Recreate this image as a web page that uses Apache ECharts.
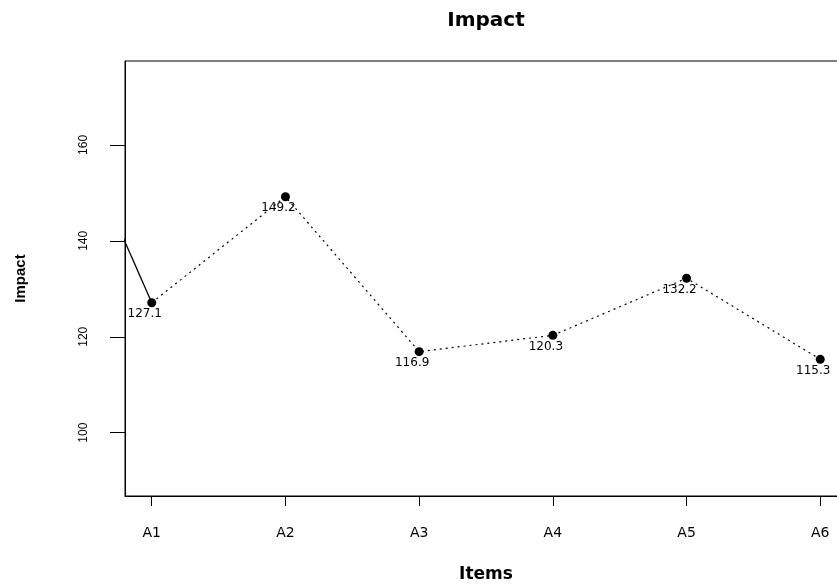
<!DOCTYPE html>
<html>
<head>
<meta charset="utf-8">
<script src="https://cdn.jsdelivr.net/npm/echarts@6/dist/echarts.min.js"></script>
<style>html,body{margin:0;padding:0;background:#fff;overflow:hidden;width:837px;height:588px}#c{width:847px;height:588px}</style>
</head>
<body>
<div id="c"></div>
<script>
// ---- data ----
var categories = ['A1', 'A2', 'A3', 'A4', 'A5', 'A6'];
var impactValues = [127.1, 149.2, 116.9, 120.3, 132.2, 115.3];
// solid segment coming in from a point left of the plot region
var leadInX = [0, 1];
var leadInY = [190.6, 127.1];
var yTicks = [100, 120, 140, 160];
var xTicks = [1, 2, 3, 4, 5, 6];

var mainData = impactValues.map(function (v, i) { return [i + 1, v]; });
var leadData = leadInX.map(function (x, i) { return [x, leadInY[i]]; });

var chart = echarts.init(document.getElementById('c'), null, {renderer: 'canvas'});
chart.setOption({
  animation: false,
  backgroundColor: '#fff',
  title: {
    text: 'Impact',
    left: 481, top: 6, textAlign: 'center',
    textStyle: {fontFamily: 'DejaVu Sans', fontWeight: 'bold', fontSize: 20, color: '#000'}
  },
  grid: {
    left: 125, top: 61, bottom: 91, right: 0,
    show: true, borderColor: '#000', borderWidth: 1, backgroundColor: 'transparent'
  },
  xAxis: {
    type: 'value', min: 0.8, max: 6.2,
    name: 'Items', nameLocation: 'middle', nameGap: 70,
    nameTextStyle: {fontFamily: 'DejaVu Sans', fontWeight: 'bold', fontSize: 17, color: '#000'},
    axisLine: {show: true, lineStyle: {color: '#000', width: 1}},
    axisTick: {show: true, customValues: xTicks, length: 10, lineStyle: {color: '#000'}},
    axisLabel: {
      customValues: xTicks, margin: 30,
      fontFamily: 'DejaVu Sans', fontSize: 14, color: '#000',
      formatter: function (v) { return categories[Math.round(v) - 1] || ''; }
    },
    splitLine: {show: false}
  },
  yAxis: {
    type: 'value', min: 86.8, max: 177.5,
    name: 'Impact', nameLocation: 'middle', nameGap: 97,
    nameTextStyle: {fontFamily: 'Liberation Sans', fontWeight: 'bold', fontSize: 15, color: '#000'},
    axisLine: {show: true, lineStyle: {color: '#000', width: 1}},
    axisTick: {show: true, customValues: yTicks, length: 15, lineStyle: {color: '#000'}},
    axisLabel: {
      customValues: yTicks, rotate: 90, margin: 35,
      fontFamily: 'Liberation Sans', fontSize: 12, color: '#000'
    },
    splitLine: {show: false}
  },
  series: [
    {
      type: 'line', data: leadData, clip: true, showSymbol: false, symbol: 'none',
      lineStyle: {color: '#000', width: 1.3, type: 'solid'},
      silent: true
    },
    {
      type: 'line', data: mainData, clip: false,
      symbol: 'circle', symbolSize: 9,
      itemStyle: {color: '#000'},
      lineStyle: {color: '#000', width: 1.2, type: [2, 4]},
      label: {
        show: true, position: 'bottom', distance: 1, offset: [-7, 0],
        fontFamily: 'DejaVu Sans', fontSize: 12, color: '#000',
        formatter: function (p) { return p.value[1].toFixed(1); }
      }
    }
  ]
});
</script>
</body>
</html>
